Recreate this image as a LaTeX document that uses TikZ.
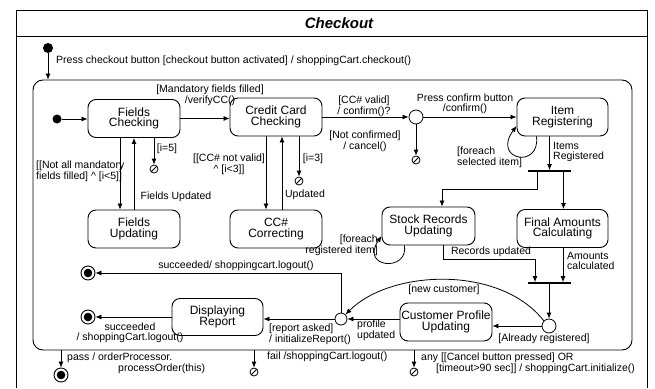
\documentclass[tikz,border=0pt]{standalone}
\usepackage{fontspec}
\setmainfont{Liberation Sans}
\usetikzlibrary{arrows.meta,calc}
\begin{document}
\begin{tikzpicture}[x=1pt,y=-1pt,
  lbl/.style={font=\fontsize{10.5}{9.5}\selectfont, inner sep=0pt, align=center},
  st/.style={draw, line width=0.9pt, rounded corners=8pt, minimum width=92pt, minimum height=38pt, inner sep=0pt, align=center, font=\fontsize{12}{10.5}\selectfont},
  arr/.style={draw, line width=0.8pt, -{Latex[length=6pt,width=5pt]}},
  initst/.style={circle, fill, minimum size=10pt, inner sep=0pt},
  finst/.style={circle, draw, line width=0.9pt, fill=white, minimum size=14pt, inner sep=0pt, path picture={\fill[black] (path picture bounding box.center) circle (4.3pt);}},
  term/.style={circle, draw, line width=0.8pt, minimum size=8pt, inner sep=0pt, path picture={\draw[black, line width=0.8pt] ($(path picture bounding box.south west)!0.15!(path picture bounding box.north east)$) -- ($(path picture bounding box.south west)!0.85!(path picture bounding box.north east)$);}},
  junc/.style={circle, draw, line width=0.8pt, fill=white, minimum size=14pt, inner sep=0pt},
  bar/.style={fill, minimum width=43pt, minimum height=1.4pt, inner sep=0pt},
]
\fill[white] (0,0) rectangle (655,388);
\useasboundingbox (0,0) rectangle (655,388);
% frame
\draw[line width=1pt] (16,388) -- (16,10) -- (647,10) -- (647,388);
\draw[line width=1pt] (16,36) -- (647,36);
\node[font=\fontsize{15}{15}\selectfont\bfseries\itshape] (title) at (339,23) {Checkout};

\node[initst] (i0) at (48,48) {};
\node[draw, line width=0.9pt, rounded corners=10pt, minimum width=599pt, minimum height=270pt, inner sep=0pt] (comp) at (332.5,215) {};
\draw[arr] (i0) -- (i0 |- comp.north);
\node[lbl, anchor=west] (lpress) at (56,61) {Press checkout button [checkout button activated] / shoppingCart.checkout()};

% states
\node[initst, minimum size=9pt] (i1) at (57,119) {};
\node[st] (fc) at (134,118.5) {Fields\\Checking};
\node[st] (ccc) at (276,117) {Credit Card\\Checking};
\node[st] (fu) at (134,229) {Fields\\Updating};
\node[st] (ccr) at (276,229) {CC\#\\Correcting};
\node[junc] (j1) at (416,117) {};
\node[st, minimum width=91pt] (ir) at (562.5,117) {Item\\Registering};
\node[term] (t1) at (154,169) {};
\node[term] (t2) at (299,181) {};
\node[term] (t3) at (416,160) {};
\node[bar] (fork) at (549.5,171) {};
\node[st, minimum width=93pt] (sru) at (428.5,226) {Stock Records\\Updating};
\node[st, minimum width=91pt] (fac) at (562.5,228.5) {Final Amounts\\Calculating};
\node[bar] (join) at (549,283) {};
\node[junc] (j2) at (549,326) {};
\node[st] (cpu) at (446,322) {Customer Profile\\Updating};
\node[junc, minimum size=12pt] (j3) at (341,319) {};
\node[st, minimum width=91pt, minimum height=37pt] (dr) at (217.5,317) {Displaying\\Report};
\node[finst] (f1) at (88,273) {};
\node[finst] (f2) at (88,317) {};
\node[finst] (f3) at (61,375) {};
\node[term] (t4) at (254,372) {};
\node[term] (t5) at (414,372) {};

% connectors
\draw[arr] (i1) -- (fc.west |- i1);
\draw[arr] (fc.east) -- (fc.east -| ccc.west);
\draw[arr] ([xshift=-14pt]fc.south) -- ([xshift=-14pt]fc.south |- fu.north);
\draw[arr] (fu.north) -- (fu.north |- fc.south);
\draw[arr] (t1.north |- fc.south) -- (t1.north);
\draw[arr] ([xshift=-10pt]ccc.south) -- ([xshift=-10pt]ccc.south |- ccr.north);
\draw[arr] ([xshift=6pt]ccr.north) -- ([xshift=6pt]ccr.north |- ccc.south);
\draw[arr] (t2.north |- ccc.south) -- (t2.north);
\draw[arr] (ccc.east |- j1) -- (j1.west);
\draw[arr] (j1.south) -- (t3.north);
\draw[arr] (j1.east) -- (j1.east -| ir.west);
\draw[arr] ([xshift=-26pt]ir.south) .. controls +(4,33) and +(-25,34) .. ([yshift=-9pt]ir.west);
\draw[arr] (fork.north |- ir.south) -- (fork.north);
\draw[arr] ([xshift=-12.5pt]fork.south) -- ++(0,17) -| ([xshift=13.5pt]sru.north);
\draw[arr] ([xshift=14pt]fork.south) -- ([xshift=14pt]fork.south |- fac.north);
\draw[arr] ([xshift=-24pt]sru.south) .. controls +(4,27) and +(-22,32) .. ([yshift=-10pt]sru.west);
\draw[arr] ([xshift=14.5pt]sru.south) -- ++(0,14) -| ([xshift=-14pt]join.north);
\draw[arr] ([xshift=14pt]join.north |- fac.south) -- ([xshift=14pt]join.north);
\draw[arr] (join.south -| j2) -- (j2.north);
\draw[arr] (j2.west) -- (j2.west -| cpu.east);
\draw[arr] (j2.north west) .. controls +(-44,-56) and +(45,-45) .. (j3.north east);
\draw[arr] (cpu.west |- j3) -- (j3.east);
\draw[arr] (j3.west) -- (j3.west -| dr.east);
\draw[arr] (j3.north) |- (f1.east);
\draw[arr] (dr.west |- f2) -- (f2.east);
\draw[arr] (f3.north |- comp.south) -- (f3.north);
\draw[arr] (t4.north |- comp.south) -- (t4.north);
\draw[arr] (t5.north |- comp.south) -- (t5.north);

% labels
\node[lbl] (l1) at (210,95) {[Mandatory fields filled]\\/verifyCC()};
\node[lbl] (l2) at (364,106) {[CC\# valid]\\/ confirm()?};
\node[lbl] (l3) at (465,104) {Press confirm button\\/confirm()};
\node[lbl] (l4) at (365,141) {[Not confirmed]\\/ cancel()};
\node[lbl] (l5) at (313,159) {[i=3]};
\node[lbl] (l6) at (167,149) {[i=5]};
\node[lbl, anchor=west, align=left] (l7) at (36,171) {[[Not all mandatory\\fields filled] \textasciicircum{} [i<5]]};
\node[lbl] (l8) at (176,197) {Fields Updated};
\node[lbl] (l9) at (229,164) {[[CC\# not valid]\\\textasciicircum{} [i<3]]};
\node[lbl] (l10) at (305,195) {Updated};
\node[lbl, anchor=west, align=left] (l11) at (457,157) {[foreach\\selected item]};
\node[lbl, anchor=west, align=left] (l12) at (553,152) {Items\\Registered};
\node[lbl, anchor=east, align=right] (l13) at (378,245) {[foreach\\registered item]};
\node[lbl] (l14) at (491,252) {Records updated};
\node[lbl, anchor=west, align=left] (l15) at (567,261) {Amounts\\calculated};
\node[lbl] (l16) at (444,290) {[new customer]};
\node[lbl] (l17) at (544,339) {[Already registered]};
\node[lbl, anchor=west, align=left, font=\fontsize{10.5}{8}\selectfont] (l18) at (357,330) {profile\\updated};
\node[lbl] (l19) at (236,266) {succeeded/ shoppingcart.logout()};
\node[lbl, anchor=west, align=left] (l20) at (269,334) {[report asked]\\/ initializeReport()};
\node[lbl] (l21) at (130,333) {succeeded\\/ shoppingCart.logout()};
\node[lbl, anchor=west, align=left] (l22) at (67,363) {pass / orderProcessor.\\\hspace*{51pt}processOrder(this)};
\node[lbl, anchor=west] (l23) at (267,357) {fail /shoppingCart.logout()};
\node[lbl, anchor=west, align=left] (l24) at (421,363) {any [[Cancel button pressed] OR\\\hspace*{15pt}[timeout>90 sec]] / shoppingCart.initialize()};
\end{tikzpicture}
\end{document}
